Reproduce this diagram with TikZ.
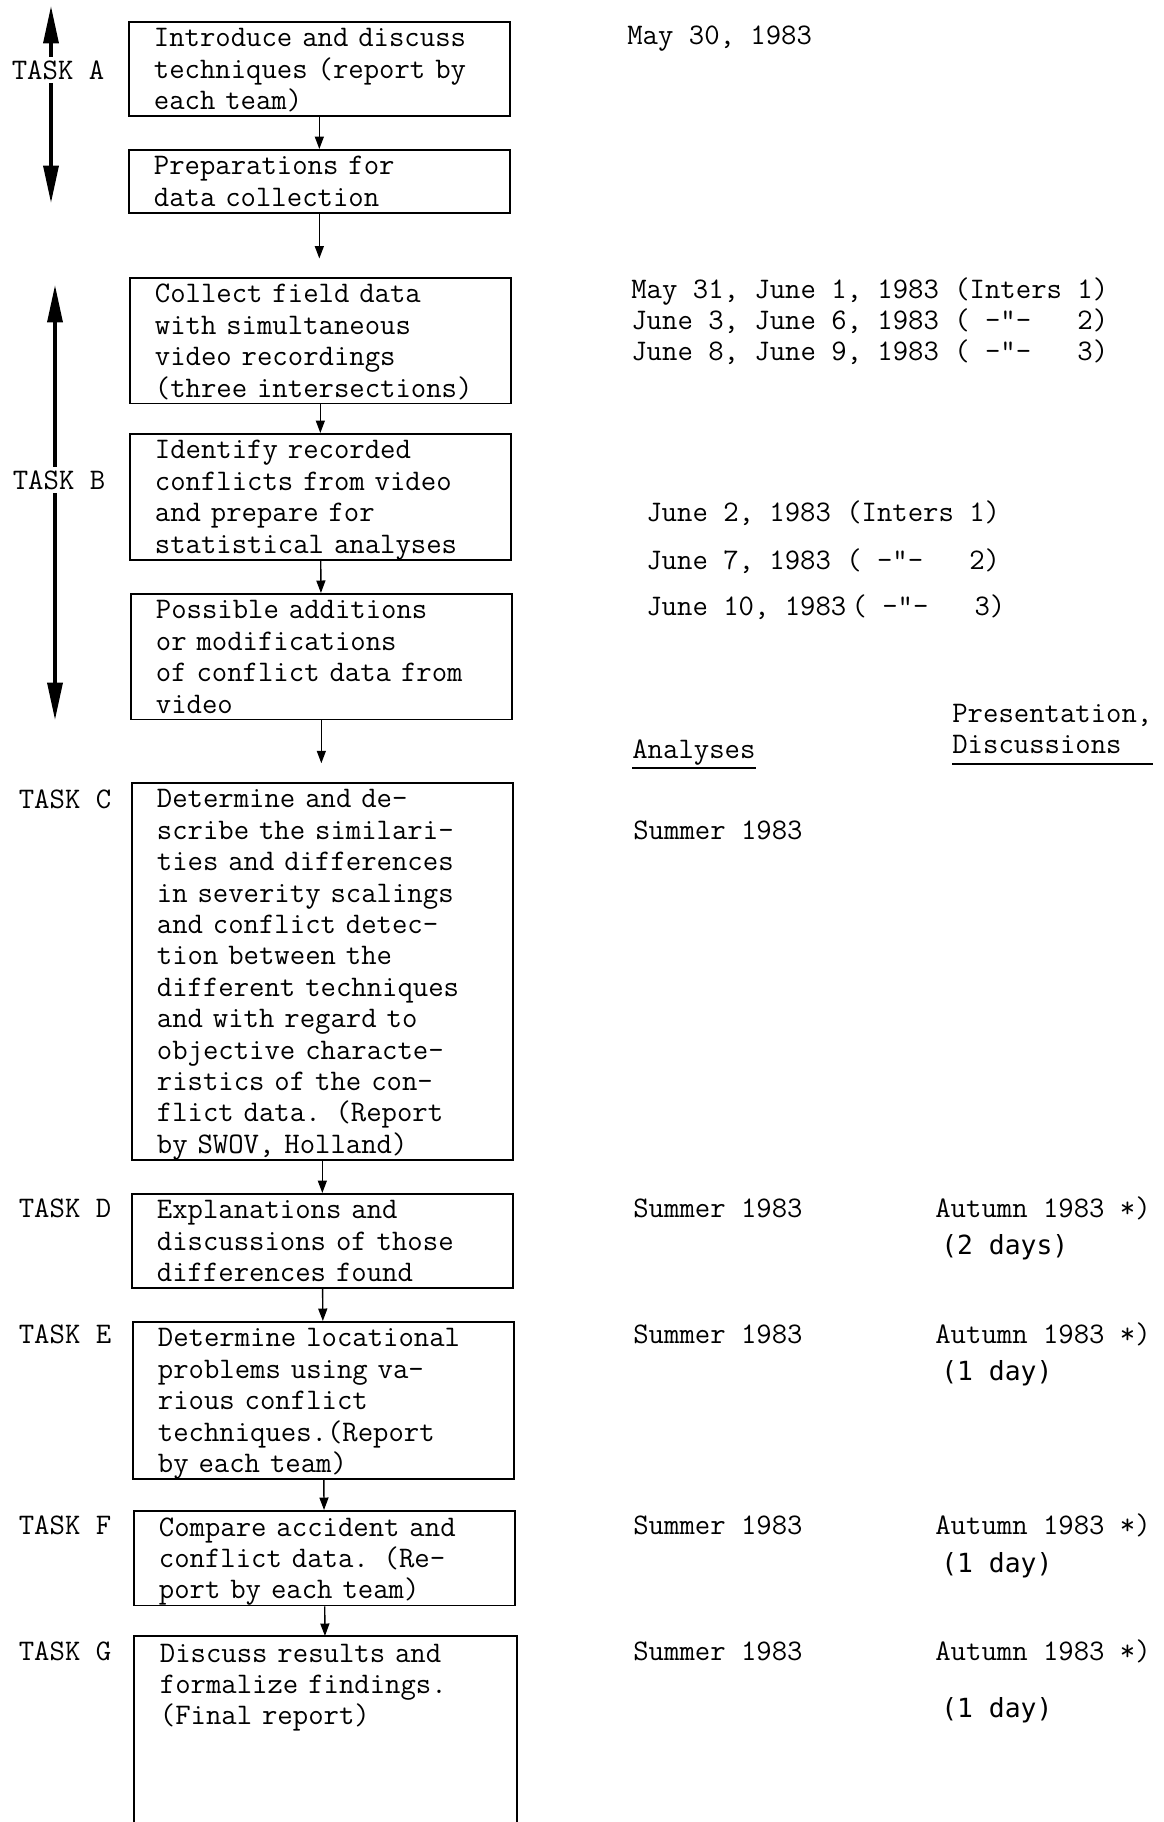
\documentclass[tikz,border=0pt]{standalone}
\usepackage{fontspec}
\newfontfamily\daysfont{DejaVu Sans Mono}
\usetikzlibrary{arrows.meta,positioning}

\begin{document}
\begin{tikzpicture}[x=0.02cm, y=-0.02cm,
    every node/.style={font=\fontsize{17}{17.86}\selectfont\ttfamily},
    taskbox/.style={draw, line width=1pt, anchor=north west, text width=6.62cm,
        align=left, inner xsep=0.5cm, inner ysep=0pt,
        execute at begin node={\rule{0pt}{0.8\baselineskip}},
        execute at end node={\rule[-0.2\baselineskip]{0pt}{0pt}}},
    plain/.style={anchor=north west, align=left, inner sep=0pt,
        execute at begin node=\strut, execute at end node=\strut},
    tasklabel/.style={anchor=west, inner sep=2pt},
    flow/.style={-{Triangle[length=0.25cm,width=0.18cm]}, line width=0.8pt},
    span/.style={{Triangle[length=0.75cm,width=0.3cm]}-{Triangle[length=0.75cm,width=0.3cm]}, line width=2pt}]

    \useasboundingbox (0,0) rectangle (1163,1822);

    % the task boxes
    \node[taskbox] (intro) at (128,21) {Introduce and discuss\\techniques (report by\\each team)};
    \node[taskbox] (prep) at (128,149) {Preparations for\\data collection};
    \coordinate[below=0.9cm of prep] (prepout);
    \node[taskbox] (collect) at (129,277) {Collect field data\\with simultaneous\\video recordings\\(three intersections)};
    \node[taskbox] (identify) at (129,433) {Identify recorded\\conflicts from video\\and prepare for\\statistical analyses};
    \node[taskbox] (modify) at (130,593) {Possible additions\\or modifications\\of conflict data from\\video};
    \coordinate[below=0.86cm of modify] (modifyout);
    \node[taskbox] (similar) at (131,782) {Determine and de-\\scribe the similari-\\ties and differences\\in severity scalings\\and conflict detec-\\tion between the\\different techniques\\and with regard to\\objective characte-\\ristics of the con-\\flict data. (Report\\by SWOV, Holland)};
    \node[taskbox] (explain) at (131,1193) {Explanations and\\discussions of those\\differences found};
    \node[taskbox] (locate) at (132,1321) {Determine locational\\problems using va-\\rious conflict\\techniques.(Report\\by each team)};
    \node[taskbox] (compare) at (133,1510) {Compare accident and\\conflict data. (Re-\\port by each team)};
    \node[taskbox, draw=none] (final) at (134,1636) {Discuss results and\\formalize findings.\\(Final report)};
    \coordinate (finalend) at (134,1822);
    \draw[line width=1pt] (final.south west |- finalend) -- (final.north west) -- (final.north east) -- (final.south east |- finalend);

    \foreach \u/\v in {intro/prep, collect/identify, identify/modify, similar/explain, explain/locate, locate/compare, compare/final}
        \draw[flow] (\u) -- (\v);
    \draw[flow] (prep) -- (prepout);
    \draw[flow] (modify) -- (modifyout);

    % task spans and labels
    \coordinate (spanAtop) at (51,6);
    \coordinate (spanAbot) at (51,203);
    \draw[span] (spanAtop) -- (spanAbot);
    \node[tasklabel, anchor=center, fill=white] (taskA) at (58,70) {TASK A};
    \coordinate (spanBtop) at (55,285);
    \coordinate (spanBbot) at (55,720);
    \draw[span] (spanBtop) -- (spanBbot);
    \node[tasklabel, anchor=center, fill=white] (taskB) at (59,480) {TASK B};
    \foreach \t/\y in {C/799, D/1208, E/1334, F/1525, G/1651}
        \node[tasklabel] (task\t) at (15,\y) {TASK \t};

    % dates
    \node[anchor=base west, inner sep=0pt] (dateA) at (627,44) {May 30, 1983};
    \node[plain] (dateB) at (631,277) {May 31, June 1, 1983 (Inters 1)\\June 3, June 6, 1983 ( -"-~~~2)\\June 8, June 9, 1983 ( -"-~~~3)};
    \node[anchor=base west, inner sep=0pt] (video1) at (646,521) {June 2, 1983 (Inters 1)};
    \node[anchor=base west, inner sep=0pt] (video2) at (646,569) {June 7, 1983 ( -"-~~~2)};
    \node[anchor=base west, inner sep=0pt] (video3) at (646,615) {June 10, 1983\kern3pt( -"-~~~3)};

    % column heads
    \node[plain] (analyses) at (632,736) {Analyses};
    \draw[line width=0.9pt] (analyses.south west) -- (analyses.south east);
    \node[plain] (presentation) at (952,704) {Presentation,\\Discussions};
    \draw[line width=0.9pt] (presentation.south west) -- (presentation.south east);

    \foreach \y [count=\i] in {839, 1217, 1343, 1534, 1660}
        \node[anchor=base west, inner sep=0pt] (summer\i) at (633,\y) {Summer 1983};
    \foreach \y [count=\i] in {1217, 1343, 1534, 1660}
        \node[anchor=base west, inner sep=0pt] (autumn\i) at (935,\y) {Autumn 1983 *)};
    \foreach \y/\d [count=\i] in {1254/2 days, 1380/1 day, 1572/1 day, 1717/1 day}
        \node[anchor=base west, inner sep=0pt, font=\daysfont\fontsize{15}{18}\selectfont] (days\i) at (941,\y) {(\d)};

\end{tikzpicture}
\end{document}
